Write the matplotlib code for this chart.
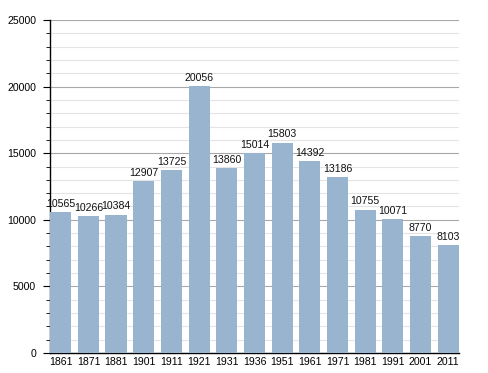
import matplotlib
matplotlib.use('Agg')
import matplotlib.pyplot as plt
import numpy as np
from matplotlib.ticker import MultipleLocator

plt.rcParams['font.family'] = ['Liberation Sans', 'DejaVu Sans']

years = ["1861", "1871", "1881", "1901", "1911", "1921", "1931", "1936",
         "1951", "1961", "1971", "1981", "1991", "2001", "2011"]
population = [10565, 10266, 10384, 12907, 13725, 20056, 13860, 15014,
              15803, 14392, 13186, 10755, 10071, 8770, 8103]

fig = plt.figure(figsize=(4.88, 3.73), dpi=100)
ax = fig.add_axes([0.1025, 0.0536, 0.838, 0.8928])

x = np.arange(len(years))
ax.bar(x, population, width=0.77, color="#98b4cf", zorder=3)
for xi, v in zip(x, population):
    ax.text(xi, v + 250, str(v), ha="center", va="bottom", fontsize=7.6,
            color="#111111", zorder=4)

ax.set_xlim(-0.39, len(years) - 0.61)
ax.set_ylim(0, 25000)
ax.yaxis.set_major_locator(MultipleLocator(5000))
ax.yaxis.set_minor_locator(MultipleLocator(1000))
ax.grid(which="major", axis="y", color="#a8a8a8", linewidth=0.8, zorder=1)
ax.grid(which="minor", axis="y", color="#e4e4e4", linewidth=0.8, zorder=1)
ax.set_xticks(x)
ax.set_xticklabels(years)
ax.tick_params(axis="x", length=0, labelsize=7.6, pad=3)
ax.tick_params(axis="y", which="major", length=5, labelsize=7.6, pad=5)
ax.tick_params(axis="y", which="minor", length=3)
for s in ["top", "right"]:
    ax.spines[s].set_visible(False)
ax.spines["left"].set_linewidth(1.0)
ax.spines["bottom"].set_linewidth(1.0)

fig.savefig("out.png", dpi=100)
